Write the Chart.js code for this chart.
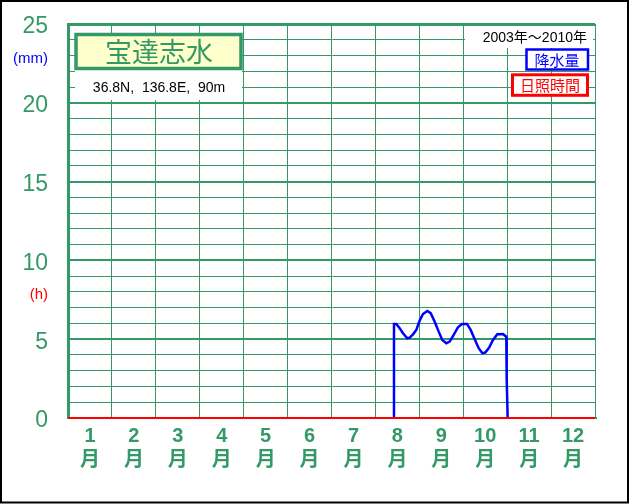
<!DOCTYPE html>
<html>
<head>
<meta charset="utf-8">
<script src="https://cdn.jsdelivr.net/npm/chart.js@4/dist/chart.umd.min.js"></script>
<style>
  html, body { margin: 0; padding: 0; background: #fff; }
  #wrap { width: 630px; height: 504px; position: relative; }
</style>
</head>
<body>
<div id="wrap"><canvas id="chart" width="630" height="504"></canvas></div>
<script>
// データ
const monthNames = ['1', '2', '3', '4', '5', '6', '7', '8', '9', '10', '11', '12'];

// 降水量 (mm) : x = 月 (0〜12 の連続値)
const precipMonth = [7.423, 7.423, 7.476, 7.553, 7.628, 7.726, 7.781, 7.856, 7.931, 8.008, 8.083,
  8.181, 8.259, 8.350, 8.441, 8.523, 8.614, 8.691, 8.782, 8.880, 8.971, 9.085, 9.169, 9.261,
  9.352, 9.434, 9.502, 9.587, 9.677, 9.775, 9.905, 9.980, 9.989, 10.011];
const precipMm = [0, 5.97, 5.97, 5.69, 5.38, 5.06, 5.10, 5.31, 5.59, 6.18, 6.60,
  6.79, 6.65, 6.11, 5.48, 4.95, 4.74, 4.85, 5.27, 5.76, 5.97, 5.97, 5.59, 5.00,
  4.43, 4.11, 4.15, 4.46, 4.95, 5.31, 5.33, 5.16, 2.52, 0];

// 日照時間 (h)
const sunMonth = [0, 1, 2, 3, 4, 5, 6, 7, 8, 9, 10, 11, 12];
const sunHours = [0, 0, 0, 0, 0, 0, 0, 0, 0, 0, 0, 0, 0];

const GREEN = '#339966';
const FONT = '"Liberation Sans", "Noto Sans CJK JP", sans-serif';
const JP = '"Noto Sans CJK JP", sans-serif';

function toPoints(xs, ys) {
  return xs.map((x, i) => ({ x: x, y: ys[i] }));
}

// 枠・タイトル・凡例
const boxPlugin = {
  id: 'boxes',
  afterDraw(chart) {
    const ctx = chart.ctx;
    ctx.save();

    // タイトル
    ctx.fillStyle = '#fff';
    ctx.fillRect(75, 70, 167, 30);
    ctx.fillStyle = '#ffffcc';
    ctx.fillRect(76, 34, 165, 35);
    ctx.strokeStyle = GREEN;
    ctx.lineWidth = 3.5;
    ctx.strokeRect(76, 34.5, 165, 34);
    ctx.fillStyle = GREEN;
    ctx.font = '27px ' + JP;
    ctx.textAlign = 'center';
    ctx.textBaseline = 'middle';
    ctx.fillText('宝達志水', 159, 52);

    ctx.fillStyle = '#000';
    ctx.font = '14px ' + FONT;
    ctx.fillText('36.8N,  136.8E,  90m', 159, 88);

    // 期間
    ctx.fillStyle = '#fff';
    ctx.fillRect(465, 26, 128, 22);
    ctx.fillStyle = '#000';
    ctx.textAlign = 'right';
    ctx.fillText('2003年〜2010年', 587, 38);

    // 凡例
    ctx.textAlign = 'center';
    ctx.font = '15px ' + JP;
    ctx.fillStyle = '#fff';
    ctx.fillRect(526, 49, 62, 21);
    ctx.strokeStyle = '#0000ff';
    ctx.lineWidth = 2.5;
    ctx.strokeRect(526.5, 49.5, 61.5, 20);
    ctx.fillStyle = '#0000ff';
    ctx.fillText('降水量', 557, 60);

    ctx.fillStyle = '#fff';
    ctx.fillRect(512, 74, 76, 22);
    ctx.strokeStyle = '#ff0000';
    ctx.lineWidth = 3;
    ctx.strokeRect(512.5, 74.8, 75, 20.5);
    ctx.fillStyle = '#ff0000';
    ctx.fillText('日照時間', 550, 85.5);

    // 外枠
    ctx.strokeStyle = '#000';
    ctx.lineWidth = 2;
    ctx.strokeRect(1, 1, 627, 501.5);
    ctx.restore();
  }
};

new Chart(document.getElementById('chart'), {
  type: 'line',
  data: {
    datasets: [
      {
        label: '日照時間',
        data: toPoints(sunMonth, sunHours),
        xAxisID: 'xm',
        borderColor: '#ff0000',
        borderWidth: 2,
        pointRadius: 0,
        tension: 0,
        clip: false
      },
      {
        label: '降水量',
        data: toPoints(precipMonth, precipMm),
        xAxisID: 'xm',
        borderColor: '#0000ff',
        borderWidth: 2.5,
        pointRadius: 0,
        tension: 0,
        clip: false
      }
    ]
  },
  options: {
    responsive: false,
    animation: false,
    layout: { padding: { top: 0, right: 35, left: 0, bottom: 0 } },
    plugins: {
      legend: { display: false },
      tooltip: { enabled: false }
    },
    scales: {
      x: {
        type: 'category',
        labels: monthNames.map(m => [m, '月']),
        offset: true,
        grid: {
          offset: true,
          color: GREEN,
          lineWidth: c => (c.index === 0 || c.index === 12) ? 3 : 1,
          drawTicks: false
        },
        border: { color: GREEN, width: 2 },
        ticks: {
          color: GREEN,
          font: { family: FONT, size: 20, weight: 'bold', lineHeight: 1.2 },
          padding: 6,
          maxRotation: 0,
          autoSkip: false
        },
        afterFit: s => { s.height = 86; }
      },
      xm: { type: 'linear', min: 0, max: 12, display: false },
      y: {
        min: 0,
        max: 25,
        grid: {
          color: GREEN,
          lineWidth: c => {
            const v = c.tick.value;
            if (v === 25) return 3;
            return v % 5 === 0 ? 2 : 1;
          },
          drawTicks: false
        },
        border: { color: GREEN, width: 3 },
        ticks: {
          stepSize: 1,
          autoSkip: false,
          padding: 20,
          labelOffset: 3,
          callback: v => {
            if (v === 23) return '(mm)';
            if (v === 8) return '(h)';
            return v % 5 === 0 ? String(v) : '';
          },
          color: c => c.tick.value === 23 ? '#0000ff' : (c.tick.value === 8 ? '#ff0000' : GREEN),
          font: c => (c.tick && (c.tick.value === 23 || c.tick.value === 8))
            ? { family: FONT, size: 15 }
            : { family: FONT, size: 23 }
        },
        afterFit: s => {
          s.width = 68;
          s.paddingTop = 24;
          s.paddingBottom = 0;
        }
      }
    }
  },
  plugins: [boxPlugin]
});
</script>
</body>
</html>
